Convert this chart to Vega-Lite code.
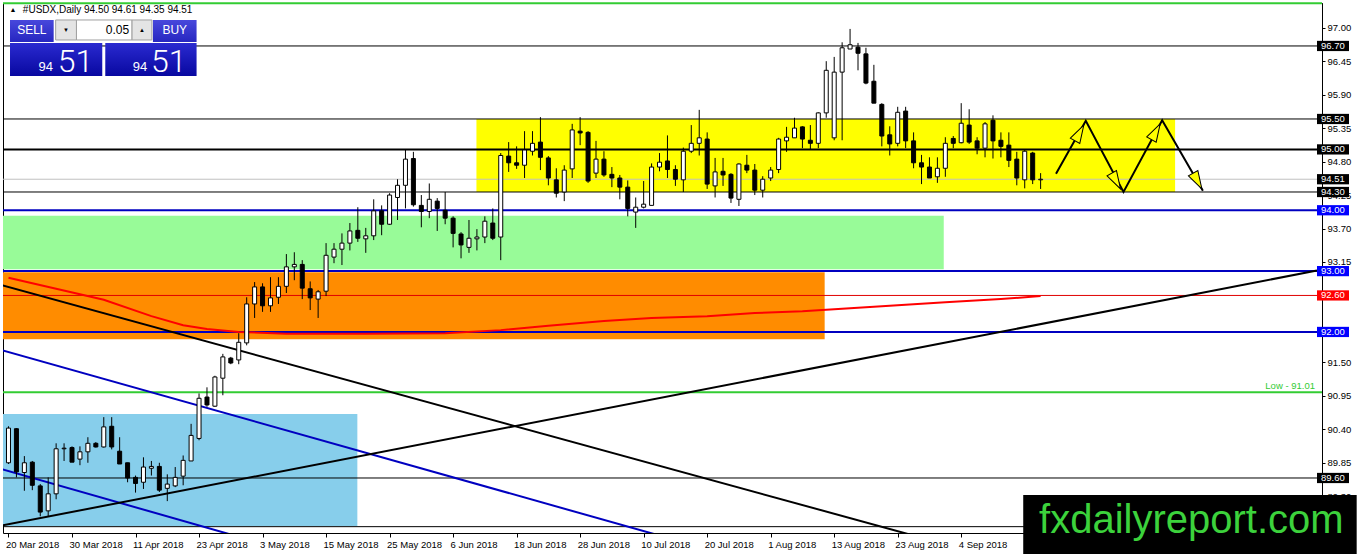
{
  "$schema": "https://vega.github.io/schema/vega-lite/v6.json",
  "width": 1319,
  "height": 530,
  "autosize": {"type": "none"},
  "padding": {"left": 3, "top": 3, "right": 40, "bottom": 21},
  "background": "white",
  "config": {
    "view": {"stroke": "black", "strokeWidth": 1},
    "axis": {"grid": false, "labelFont": "Liberation Sans", "labelFontSize": 9.5, "labelColor": "black", "tickColor": "black", "domainColor": "black"},
    "text": {"font": "Liberation Sans"}
  },
  "datasets": {
    "one": [{}],
    "candles": [
      {"i":0,"o":89.85,"h":90.45,"l":89.83,"c":90.42},
      {"i":1,"o":90.41,"h":90.42,"l":89.61,"c":89.70},
      {"i":2,"o":89.69,"h":89.96,"l":89.39,"c":89.85},
      {"i":3,"o":89.86,"h":89.88,"l":89.40,"c":89.48},
      {"i":4,"o":89.47,"h":89.50,"l":88.97,"c":89.04},
      {"i":5,"o":89.06,"h":89.61,"l":88.96,"c":89.34},
      {"i":6,"o":89.34,"h":90.17,"l":89.25,"c":90.08},
      {"i":7,"o":90.08,"h":90.17,"l":89.88,"c":90.09},
      {"i":8,"o":90.10,"h":90.12,"l":89.86,"c":89.86},
      {"i":9,"o":89.91,"h":90.12,"l":89.81,"c":90.03},
      {"i":10,"o":90.03,"h":90.27,"l":89.85,"c":90.17},
      {"i":11,"o":90.17,"h":90.19,"l":90.10,"c":90.11},
      {"i":12,"o":90.11,"h":90.60,"l":90.10,"c":90.44},
      {"i":13,"o":90.45,"h":90.60,"l":90.07,"c":90.11},
      {"i":14,"o":90.04,"h":90.27,"l":89.83,"c":89.83},
      {"i":15,"o":89.85,"h":89.85,"l":89.53,"c":89.60},
      {"i":16,"o":89.61,"h":89.64,"l":89.36,"c":89.51},
      {"i":17,"o":89.53,"h":89.94,"l":89.42,"c":89.78},
      {"i":18,"o":89.76,"h":89.88,"l":89.64,"c":89.79},
      {"i":19,"o":89.79,"h":89.85,"l":89.37,"c":89.40},
      {"i":20,"o":89.43,"h":89.66,"l":89.22,"c":89.50},
      {"i":21,"o":89.47,"h":89.78,"l":89.45,"c":89.61},
      {"i":22,"o":89.63,"h":89.97,"l":89.48,"c":89.89},
      {"i":23,"o":89.88,"h":90.49,"l":89.88,"c":90.30},
      {"i":24,"o":90.25,"h":90.99,"l":90.22,"c":90.91},
      {"i":25,"o":90.93,"h":91.09,"l":90.77,"c":90.80},
      {"i":26,"o":90.78,"h":91.28,"l":90.77,"c":91.26},
      {"i":27,"o":91.24,"h":91.64,"l":90.96,"c":91.59},
      {"i":28,"o":91.57,"h":91.59,"l":91.47,"c":91.49},
      {"i":29,"o":91.54,"h":91.98,"l":91.47,"c":91.83},
      {"i":30,"o":91.82,"h":92.57,"l":91.78,"c":92.46},
      {"i":31,"o":92.46,"h":92.82,"l":92.23,"c":92.74},
      {"i":32,"o":92.74,"h":92.80,"l":92.33,"c":92.43},
      {"i":33,"o":92.43,"h":92.90,"l":92.33,"c":92.56},
      {"i":34,"o":92.57,"h":92.90,"l":92.46,"c":92.75},
      {"i":35,"o":92.75,"h":93.28,"l":92.64,"c":93.07},
      {"i":36,"o":93.07,"h":93.31,"l":92.85,"c":93.11},
      {"i":37,"o":93.11,"h":93.18,"l":92.54,"c":92.72},
      {"i":38,"o":92.71,"h":92.83,"l":92.36,"c":92.56},
      {"i":39,"o":92.54,"h":92.69,"l":92.23,"c":92.66},
      {"i":40,"o":92.67,"h":93.46,"l":92.59,"c":93.26},
      {"i":41,"o":93.23,"h":93.46,"l":93.13,"c":93.36},
      {"i":42,"o":93.36,"h":93.62,"l":93.10,"c":93.46},
      {"i":43,"o":93.46,"h":93.79,"l":93.34,"c":93.66},
      {"i":44,"o":93.67,"h":94.05,"l":93.48,"c":93.54},
      {"i":45,"o":93.53,"h":93.71,"l":93.30,"c":93.58},
      {"i":46,"o":93.58,"h":94.18,"l":93.51,"c":93.99},
      {"i":47,"o":93.99,"h":94.08,"l":93.59,"c":93.77},
      {"i":48,"o":93.77,"h":94.28,"l":93.76,"c":94.25},
      {"i":49,"o":94.21,"h":94.51,"l":93.84,"c":94.41},
      {"i":50,"o":94.41,"h":94.99,"l":94.03,"c":94.84},
      {"i":51,"o":94.85,"h":94.96,"l":94.06,"c":94.09},
      {"i":52,"o":94.08,"h":94.25,"l":93.72,"c":93.98},
      {"i":53,"o":93.98,"h":94.44,"l":93.87,"c":94.18},
      {"i":54,"o":94.15,"h":94.20,"l":93.66,"c":94.03},
      {"i":55,"o":94.00,"h":94.30,"l":93.77,"c":93.87},
      {"i":56,"o":93.87,"h":93.90,"l":93.39,"c":93.62},
      {"i":57,"o":93.61,"h":93.64,"l":93.21,"c":93.43},
      {"i":58,"o":93.39,"h":93.84,"l":93.30,"c":93.54},
      {"i":59,"o":93.53,"h":93.69,"l":93.34,"c":93.56},
      {"i":60,"o":93.56,"h":93.90,"l":93.46,"c":93.82},
      {"i":61,"o":93.79,"h":94.03,"l":93.51,"c":93.54},
      {"i":62,"o":93.56,"h":94.94,"l":93.18,"c":94.90},
      {"i":63,"o":94.89,"h":95.12,"l":94.63,"c":94.78},
      {"i":64,"o":94.78,"h":95.05,"l":94.68,"c":94.74},
      {"i":65,"o":94.74,"h":95.30,"l":94.53,"c":94.99},
      {"i":66,"o":94.97,"h":95.30,"l":94.90,"c":95.10},
      {"i":67,"o":95.12,"h":95.53,"l":94.66,"c":94.87},
      {"i":68,"o":94.86,"h":94.89,"l":94.41,"c":94.53},
      {"i":69,"o":94.50,"h":94.69,"l":94.21,"c":94.28},
      {"i":70,"o":94.30,"h":94.74,"l":94.15,"c":94.66},
      {"i":71,"o":94.68,"h":95.42,"l":94.53,"c":95.32},
      {"i":72,"o":95.30,"h":95.53,"l":95.07,"c":95.27},
      {"i":73,"o":95.28,"h":95.30,"l":94.45,"c":94.48},
      {"i":74,"o":94.61,"h":95.14,"l":94.53,"c":94.84},
      {"i":75,"o":94.84,"h":94.97,"l":94.55,"c":94.58},
      {"i":76,"o":94.59,"h":94.71,"l":94.38,"c":94.53},
      {"i":77,"o":94.53,"h":94.58,"l":94.18,"c":94.38},
      {"i":78,"o":94.38,"h":94.49,"l":93.90,"c":94.03},
      {"i":79,"o":93.97,"h":94.21,"l":93.71,"c":94.05},
      {"i":80,"o":94.05,"h":94.48,"l":94.03,"c":94.10},
      {"i":81,"o":94.08,"h":94.77,"l":94.08,"c":94.71},
      {"i":82,"o":94.71,"h":94.94,"l":94.64,"c":94.79},
      {"i":83,"o":94.81,"h":95.23,"l":94.53,"c":94.67},
      {"i":84,"o":94.67,"h":94.74,"l":94.40,"c":94.51},
      {"i":85,"o":94.50,"h":95.03,"l":94.30,"c":94.97},
      {"i":86,"o":94.97,"h":95.40,"l":94.94,"c":95.10},
      {"i":87,"o":95.10,"h":95.65,"l":94.90,"c":95.19},
      {"i":88,"o":95.17,"h":95.28,"l":94.35,"c":94.43},
      {"i":89,"o":94.40,"h":94.86,"l":94.21,"c":94.63},
      {"i":90,"o":94.64,"h":94.86,"l":94.40,"c":94.58},
      {"i":91,"o":94.59,"h":94.61,"l":94.12,"c":94.20},
      {"i":92,"o":94.18,"h":94.77,"l":94.07,"c":94.76},
      {"i":93,"o":94.74,"h":94.91,"l":94.61,"c":94.66},
      {"i":94,"o":94.66,"h":94.76,"l":94.25,"c":94.33},
      {"i":95,"o":94.33,"h":94.56,"l":94.21,"c":94.51},
      {"i":96,"o":94.53,"h":94.71,"l":94.48,"c":94.66},
      {"i":97,"o":94.67,"h":95.19,"l":94.61,"c":95.17},
      {"i":98,"o":95.14,"h":95.37,"l":94.96,"c":95.20},
      {"i":99,"o":95.19,"h":95.52,"l":95.19,"c":95.35},
      {"i":100,"o":95.37,"h":95.38,"l":95.02,"c":95.17},
      {"i":101,"o":95.15,"h":95.40,"l":94.99,"c":95.10},
      {"i":102,"o":95.10,"h":95.61,"l":95.02,"c":95.60},
      {"i":103,"o":95.60,"h":96.45,"l":95.52,"c":96.30},
      {"i":104,"o":95.19,"h":96.52,"l":95.15,"c":96.27},
      {"i":105,"o":96.27,"h":96.76,"l":95.15,"c":96.67},
      {"i":106,"o":96.65,"h":96.98,"l":96.65,"c":96.72},
      {"i":107,"o":96.68,"h":96.75,"l":96.30,"c":96.58},
      {"i":108,"o":96.57,"h":96.67,"l":96.07,"c":96.09},
      {"i":109,"o":96.12,"h":96.39,"l":95.76,"c":95.76},
      {"i":110,"o":95.74,"h":95.76,"l":95.05,"c":95.22},
      {"i":111,"o":95.24,"h":95.38,"l":94.90,"c":95.09},
      {"i":112,"o":95.10,"h":95.70,"l":95.05,"c":95.61},
      {"i":113,"o":95.63,"h":95.70,"l":95.02,"c":95.14},
      {"i":114,"o":95.14,"h":95.28,"l":94.69,"c":94.78},
      {"i":115,"o":94.78,"h":94.91,"l":94.43,"c":94.71},
      {"i":116,"o":94.71,"h":94.87,"l":94.53,"c":94.53},
      {"i":117,"o":94.55,"h":94.87,"l":94.45,"c":94.69},
      {"i":118,"o":94.69,"h":95.20,"l":94.55,"c":95.10},
      {"i":119,"o":95.18,"h":95.22,"l":95.02,"c":95.10},
      {"i":120,"o":95.11,"h":95.76,"l":95.10,"c":95.43},
      {"i":121,"o":95.40,"h":95.66,"l":95.09,"c":95.12},
      {"i":122,"o":95.14,"h":95.20,"l":94.92,"c":95.02},
      {"i":123,"o":95.02,"h":95.45,"l":94.87,"c":95.42},
      {"i":124,"o":95.48,"h":95.56,"l":94.85,"c":95.14},
      {"i":125,"o":95.15,"h":95.28,"l":94.87,"c":95.05},
      {"i":126,"o":95.07,"h":95.28,"l":94.71,"c":94.82},
      {"i":127,"o":94.84,"h":94.96,"l":94.41,"c":94.53},
      {"i":128,"o":94.50,"h":94.99,"l":94.36,"c":94.97},
      {"i":129,"o":94.94,"h":94.96,"l":94.43,"c":94.50},
      {"i":130,"o":94.50,"h":94.61,"l":94.35,"c":94.51}
    ],
    "ma": [
      {"i":0,"p":92.89},{"i":6,"p":92.71},{"i":12,"p":92.53},{"i":18,"p":92.26},{"i":22,"p":92.11},
      {"i":25,"p":92.05},{"i":29,"p":92.0},{"i":35,"p":91.97},{"i":45,"p":91.97},{"i":55,"p":91.98},
      {"i":62,"p":92.03},{"i":68,"p":92.1},{"i":75,"p":92.18},{"i":81,"p":92.23},{"i":88,"p":92.26},
      {"i":94,"p":92.31},{"i":100,"p":92.34},{"i":106,"p":92.39},{"i":112,"p":92.44},{"i":118,"p":92.49},
      {"i":125,"p":92.54},{"i":130,"p":92.59}
    ],
    "levels": [
      {"p":97.40,"k":"gr"},{"p":96.70,"k":"k"},{"p":95.50,"k":"k"},{"p":95.00,"k":"kb"},{"p":94.51,"k":"g"},
      {"p":94.30,"k":"k"},{"p":94.00,"k":"b"},{"p":93.00,"k":"b"},{"p":92.60,"k":"r"},{"p":92.00,"k":"b"},
      {"p":91.01,"k":"gr"},{"p":89.60,"k":"k"},{"p":88.80,"k":"k"}
    ],
    "tags": [
      {"p":96.70,"k":"k"},{"p":95.50,"k":"k"},{"p":95.00,"k":"k"},{"p":94.51,"k":"k"},{"p":94.30,"k":"k"},
      {"p":94.00,"k":"b"},{"p":93.00,"k":"b"},{"p":92.60,"k":"r"},{"p":92.00,"k":"b"},{"p":89.60,"k":"k"}
    ],
    "zones": [
      {"k":"sky","i1":-1,"i2":43.94,"p1":90.65,"p2":88.81},
      {"k":"orange","i1":-1,"i2":102.8,"p1":92.98,"p2":91.88},
      {"k":"green","i1":-1,"i2":117.8,"p1":93.91,"p2":93.03},
      {"k":"yellow","i1":58.94,"i2":146.94,"p1":95.5,"p2":94.3}
    ],
    "trends": [
      {"id":"d1","i":-1,"p":92.774},{"id":"d1","i":125,"p":88.26},
      {"id":"u1","i":-1,"p":91.707},{"id":"u1","i":90,"p":88.36},
      {"id":"u2","i":-1,"p":89.752},{"id":"u2","i":35,"p":88.41},
      {"id":"a1","i":-1,"p":88.814},{"id":"a1","i":164.81,"p":93.01}
    ],
    "arrowpath": [
      {"s":0,"i":131.94,"p":94.6},{"s":1,"i":135.69,"p":95.47},{"s":2,"i":140.44,"p":94.3},
      {"s":3,"i":145.31,"p":95.48},{"s":4,"i":150.44,"p":94.32}
    ],
    "arrowheads": [
      {"dir":"up","i":135.44,"p":95.40},{"dir":"down","i":140.06,"p":94.35},
      {"dir":"up","i":145.06,"p":95.42},{"dir":"down","i":150.31,"p":94.35}
    ]
  },
  "layer": [
    {
      "data": {"name": "zones"},
      "mark": {"type": "rect", "clip": true},
      "encoding": {
        "x": {"field": "i1", "type": "quantitative", "title": null},
        "x2": {"field": "i2"},
        "y": {"field": "p1", "type": "quantitative", "title": null},
        "y2": {"field": "p2"},
        "fill": {"condition": [
          {"test": "datum.k=='sky'", "value": "#87ceeb"},
          {"test": "datum.k=='orange'", "value": "#ff8c00"},
          {"test": "datum.k=='green'", "value": "#98fb98"}
        ], "value": "#ffff00"}
      }
    },
    {
      "data": {"name": "levels"},
      "mark": {"type": "rule"},
      "encoding": {
        "y": {"field": "p", "type": "quantitative", "title": null},
        "stroke": {"condition": [
          {"test": "datum.k=='b'", "value": "#0000c0"},
          {"test": "datum.k=='g'", "value": "#c0c0c0"},
          {"test": "datum.k=='r'", "value": "#e00000"},
          {"test": "datum.k=='gr'", "value": "#33cc33"}
        ], "value": "black"},
        "strokeWidth": {"condition": [
          {"test": "datum.k=='b'||datum.k=='kb'||datum.k=='gr'", "value": 2}
        ], "value": 1}
      }
    },
    {
      "data": {"name": "ma"},
      "mark": {"type": "line", "stroke": "#ff0000", "strokeWidth": 2, "clip": true},
      "encoding": {
        "x": {"field": "i", "type": "quantitative", "title": null},
        "y": {"field": "p", "type": "quantitative", "title": null}
      }
    },
    {
      "data": {"name": "trends"},
      "mark": {"type": "line", "strokeWidth": 2, "clip": true},
      "encoding": {
        "x": {"field": "i", "type": "quantitative", "title": null},
        "y": {"field": "p", "type": "quantitative", "title": null},
        "color": {"field": "id", "type": "nominal", "legend": null,
          "scale": {"domain": ["d1","u1","u2","a1"], "range": ["black","#0000c0","#0000c0","black"]}},
        "order": {"field": "i"}
      }
    },
    {
      "data": {"name": "candles"},
      "mark": {"type": "rule", "stroke": "black", "strokeWidth": 1},
      "encoding": {
        "x": {"field": "i", "type": "quantitative", "title": null,
          "scale": {"domain": [-0.0625, 164.8125], "nice": false, "zero": false},
          "axis": {
            "values": [0,8,16,24,32,40,48,56,64,72,80,88,96,104,112,120],
            "labelExpr": "['20 Mar 2018','30 Mar 2018','11 Apr 2018','23 Apr 2018','3 May 2018','15 May 2018','25 May 2018','6 Jun 2018','18 Jun 2018','28 Jun 2018','10 Jul 2018','20 Jul 2018','1 Aug 2018','13 Aug 2018','23 Aug 2018','4 Sep 2018'][datum.value/8]",
            "labelAlign": "left", "labelBaseline": "top", "labelPadding": 2, "labelOffset": -3,
            "tickSize": 4, "domain": false, "labelOverlap": false, "labelBound": false, "labelFlush": false
          }
        },
        "y": {"field": "l", "type": "quantitative", "title": null,
          "scale": {"domain": [88.696, 97.406], "nice": false, "zero": false},
          "axis": {
            "orient": "right",
            "values": [97, 96.45, 95.9, 95.35, 94.8, 94.25, 93.7, 93.15, 91.5, 90.95, 90.4, 89.85, 89.3],
            "format": ".2f", "tickSize": 3, "labelPadding": 2, "domain": true,
            "labelOverlap": false, "labelBound": false, "labelFlush": false, "labelBaseline": "middle"
          }
        },
        "y2": {"field": "h"}
      }
    },
    {
      "data": {"name": "candles"},
      "mark": {"type": "bar", "width": 4, "stroke": "black", "strokeWidth": 1},
      "encoding": {
        "x": {"field": "i", "type": "quantitative", "title": null},
        "y": {"field": "o", "type": "quantitative", "title": null},
        "y2": {"field": "c"},
        "fill": {"condition": {"test": "datum.c >= datum.o", "value": "white"}, "value": "black"}
      }
    },
    {
      "data": {"name": "arrowpath"},
      "mark": {"type": "line", "stroke": "black", "strokeWidth": 2},
      "encoding": {
        "x": {"field": "i", "type": "quantitative", "title": null},
        "y": {"field": "p", "type": "quantitative", "title": null},
        "order": {"field": "s"}
      }
    },
    {
      "data": {"name": "arrowheads"},
      "transform": [{"filter": "datum.dir=='up'"}],
      "mark": {"type": "point", "shape": "M0,0L-0.3,1L0.3,1Z", "size": 1296, "filled": true, "fill": "#ffff00", "stroke": "black", "strokeWidth": 1, "opacity": 1, "angle": 29},
      "encoding": {
        "x": {"field": "i", "type": "quantitative", "title": null},
        "y": {"field": "p", "type": "quantitative", "title": null}
      }
    },
    {
      "data": {"name": "arrowheads"},
      "transform": [{"filter": "datum.dir=='down'"}],
      "mark": {"type": "point", "shape": "M0,0L-0.3,1L0.3,1Z", "size": 1296, "filled": true, "fill": "#ffff00", "stroke": "black", "strokeWidth": 1, "opacity": 1, "angle": 151},
      "encoding": {
        "x": {"field": "i", "type": "quantitative", "title": null},
        "y": {"field": "p", "type": "quantitative", "title": null}
      }
    },
    {
      "data": {"name": "tags"},
      "mark": {"type": "point", "shape": "M0,-0.32L2,-0.32L2,0.32L0,0.32Z", "size": 1024, "filled": true, "opacity": 1, "strokeWidth": 0},
      "encoding": {
        "x": {"datum": 164.8125},
        "y": {"field": "p", "type": "quantitative", "title": null},
        "fill": {"condition": [
          {"test": "datum.k=='b'", "value": "#0000ff"},
          {"test": "datum.k=='r'", "value": "#ff0000"}
        ], "value": "black"}
      }
    },
    {
      "data": {"name": "tags"},
      "mark": {"type": "text", "align": "left", "baseline": "middle", "dx": 4, "fontSize": 9.5, "fill": "white"},
      "encoding": {
        "x": {"datum": 164.8125},
        "y": {"field": "p", "type": "quantitative", "title": null},
        "text": {"field": "p", "type": "quantitative", "format": ".2f"}
      }
    },
    {
      "data": {"name": "one"},
      "mark": {"type": "text", "align": "right", "baseline": "bottom", "dy": -1, "fontSize": 9.5, "fill": "#33cc33", "text": "Low - 91.01"},
      "encoding": {"x": {"datum": 164.56}, "y": {"datum": 91.01}}
    },
    {
      "data": {"name": "one"},
      "mark": {"type": "text", "align": "center", "baseline": "middle", "fontSize": 7, "fill": "black", "text": "▲"},
      "encoding": {"x": {"datum": 0.56}, "y": {"datum": 97.29}}
    },
    {
      "data": {"name": "one"},
      "mark": {"type": "text", "align": "left", "baseline": "middle", "fontSize": 10, "fill": "black", "text": "#USDX,Daily  94.50 94.61 94.35 94.51"},
      "encoding": {"x": {"datum": 1.81}, "y": {"datum": 97.29}}
    },
    {
      "data": {"name": "one"},
      "mark": {"type": "rect", "fill": {"gradient": "linear", "x1": 0, "y1": 0, "x2": 0, "y2": 1, "stops": [{"offset": 0, "color": "#4848dc"}, {"offset": 1, "color": "#2626c0"}]}},
      "encoding": {"x": {"datum": 0.19}, "x2": {"datum": 5.69}, "y": {"datum": 97.127}, "y2": {"datum": 96.765}}
    },
    {
      "data": {"name": "one"},
      "mark": {"type": "rect", "fill": {"gradient": "linear", "x1": 0, "y1": 0, "x2": 0, "y2": 1, "stops": [{"offset": 0, "color": "#4848dc"}, {"offset": 1, "color": "#2626c0"}]}},
      "encoding": {"x": {"datum": 18.19}, "x2": {"datum": 23.69}, "y": {"datum": 97.127}, "y2": {"datum": 96.765}}
    },
    {
      "data": {"name": "one"},
      "mark": {"type": "rect", "fill": {"gradient": "linear", "x1": 0, "y1": 0, "x2": 0, "y2": 1, "stops": [{"offset": 0, "color": "#2a2ad0"}, {"offset": 1, "color": "#0808a0"}]}},
      "encoding": {"x": {"datum": 0.19}, "x2": {"datum": 11.81}, "y": {"datum": 96.749}, "y2": {"datum": 96.206}}
    },
    {
      "data": {"name": "one"},
      "mark": {"type": "rect", "fill": {"gradient": "linear", "x1": 0, "y1": 0, "x2": 0, "y2": 1, "stops": [{"offset": 0, "color": "#2a2ad0"}, {"offset": 1, "color": "#0808a0"}]}},
      "encoding": {"x": {"datum": 12.19}, "x2": {"datum": 23.69}, "y": {"datum": 96.749}, "y2": {"datum": 96.206}}
    },
    {
      "data": {"name": "one"},
      "mark": {"type": "rect", "fill": "#e4e4e4", "stroke": "#a0a0a0", "strokeWidth": 1},
      "encoding": {"x": {"datum": 5.94}, "x2": {"datum": 8.56}, "y": {"datum": 97.127}, "y2": {"datum": 96.798}}
    },
    {
      "data": {"name": "one"},
      "mark": {"type": "rect", "fill": "white", "stroke": "#a0a0a0", "strokeWidth": 1},
      "encoding": {"x": {"datum": 8.56}, "x2": {"datum": 15.56}, "y": {"datum": 97.127}, "y2": {"datum": 96.798}}
    },
    {
      "data": {"name": "one"},
      "mark": {"type": "rect", "fill": "#e4e4e4", "stroke": "#a0a0a0", "strokeWidth": 1},
      "encoding": {"x": {"datum": 15.56}, "x2": {"datum": 18.06}, "y": {"datum": 97.127}, "y2": {"datum": 96.798}}
    },
    {
      "data": {"name": "one"},
      "mark": {"type": "text", "align": "center", "baseline": "middle", "fontSize": 12, "fill": "white", "text": "SELL"},
      "encoding": {"x": {"datum": 2.94}, "y": {"datum": 96.962}}
    },
    {
      "data": {"name": "one"},
      "mark": {"type": "text", "align": "center", "baseline": "middle", "fontSize": 12, "fill": "white", "text": "BUY"},
      "encoding": {"x": {"datum": 20.94}, "y": {"datum": 96.962}}
    },
    {
      "data": {"name": "one"},
      "mark": {"type": "text", "align": "right", "baseline": "middle", "fontSize": 12, "fill": "black", "text": "0.05"},
      "encoding": {"x": {"datum": 15.19}, "y": {"datum": 96.962}}
    },
    {
      "data": {"name": "one"},
      "mark": {"type": "text", "align": "center", "baseline": "middle", "fontSize": 6, "fill": "black", "text": "▼"},
      "encoding": {"x": {"datum": 7.25}, "y": {"datum": 96.962}}
    },
    {
      "data": {"name": "one"},
      "mark": {"type": "text", "align": "center", "baseline": "middle", "fontSize": 6, "fill": "black", "text": "▲"},
      "encoding": {"x": {"datum": 16.81}, "y": {"datum": 96.962}}
    },
    {
      "data": {"name": "one"},
      "mark": {"type": "text", "align": "center", "baseline": "alphabetic", "fontSize": 13, "fill": "white", "text": "94"},
      "encoding": {"x": {"datum": 4.69}, "y": {"datum": 96.289}}
    },
    {
      "data": {"name": "one"},
      "mark": {"type": "text", "align": "center", "baseline": "alphabetic", "fontSize": 13, "fill": "white", "text": "94"},
      "encoding": {"x": {"datum": 16.56}, "y": {"datum": 96.289}}
    },
    {
      "data": {"name": "one"},
      "mark": {"type": "text", "align": "left", "baseline": "alphabetic", "fontSize": 32, "font": "Roboto", "fontWeight": 300, "fill": "white", "text": "51"},
      "encoding": {"x": {"datum": 6.19}, "y": {"datum": 96.272}}
    },
    {
      "data": {"name": "one"},
      "mark": {"type": "text", "align": "left", "baseline": "alphabetic", "fontSize": 32, "font": "Roboto", "fontWeight": 300, "fill": "white", "text": "51"},
      "encoding": {"x": {"datum": 17.94}, "y": {"datum": 96.272}}
    },
    {
      "data": {"name": "one"},
      "mark": {"type": "rect", "fill": "black"},
      "encoding": {"x": {"datum": 127.81}, "x2": {"datum": 169.81}, "y": {"datum": 89.32}, "y2": {"datum": 88.35}}
    },
    {
      "data": {"name": "one"},
      "mark": {"type": "text", "align": "left", "baseline": "alphabetic", "fontSize": 40, "font": "Liberation Sans", "fill": "#3cd23c", "text": "fxdailyreport.com"},
      "encoding": {"x": {"datum": 129.81}, "y": {"datum": 88.696}}
    }
  ]
}
